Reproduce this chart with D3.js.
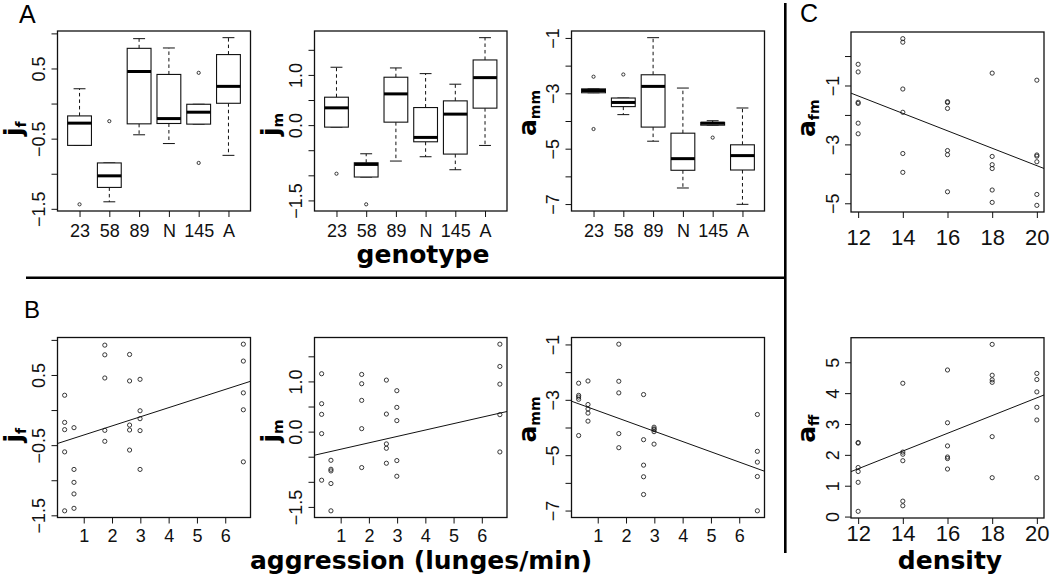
<!DOCTYPE html>
<html><head><meta charset="utf-8">
<script src="https://cdn.jsdelivr.net/npm/d3@7"></script>
<style>body{margin:0;background:#fff}svg{display:block}</style>
</head><body><svg id="c" width="1050" height="578"></svg>
<script>
// ---------------- data ----------------
const genotypes = ["23","58","89","N","145","A"];
const aggression = [0.326, 0.656, 1.745, 2.62, 2.99, 6.64];
const jf = [
  [0.211, -0.176, -0.279, -0.596, -1.436],
  [-0.251, -0.846, -1.03, -1.195, -1.40],
  [0.925, 0.787, 0.457, -0.289, -0.445],
  [0.792, 0.415, -0.214, -0.284, -0.57],
  [0.438, -0.01, -0.123, -0.293, -0.846],
  [0.939, 0.698, 0.245, 0.004, -0.738]
];
const jm = [
  [1.153, 0.556, 0.344, -0.04, -0.968],
  [-0.571, -0.75, -0.783, -1.034, -1.578],
  [1.139, 0.954, 0.622, 0.059, -0.716],
  [1.026, 0.35, -0.245, -0.332, -0.63],
  [0.815, 0.483, 0.219, -0.577, -0.889],
  [1.742, 1.298, 0.946, 0.338, -0.405]
];
const amm = [
  [-2.40, -2.84, -2.90, -2.98, -4.29],
  [-2.32, -3.17, -3.33, -3.48, -3.77],
  [-0.99, -2.33, -2.75, -4.22, -4.73],
  [-2.81, -4.44, -5.36, -5.78, -6.42],
  [-3.99, -4.05, -4.08, -4.15, -4.60],
  [-3.53, -4.86, -5.25, -5.77, -7.01]
];
const density = [12, 14, 16, 18, 20];
const afm = [
  [-0.28, -0.54, -1.57, -1.61, -2.28, -2.64],
  [0.59, 0.47, -1.12, -1.91, -3.31, -3.95],
  [-1.55, -1.58, -1.78, -3.21, -3.35, -4.61],
  [-0.58, -3.41, -3.69, -3.82, -4.55, -4.97],
  [-0.82, -3.36, -3.40, -3.59, -4.70, -5.07]
];
const aff = [
  [2.40, 2.38, 1.59, 1.46, 1.11, 0.17],
  [4.32, 2.09, 2.02, 1.81, 0.50, 0.35],
  [4.75, 3.04, 2.29, 1.93, 1.88, 1.54],
  [5.58, 4.58, 4.43, 4.35, 2.59, 1.26],
  [4.64, 4.44, 4.04, 3.54, 3.13, 1.26]
];
// fitted lines [intercept, slope]
const fitJf = [-0.486, 0.130];
const fitJm = [-0.479, 0.1276];
const fitAmm = [-3.023, -0.371];
const fitAfm = [2.197, -0.296];
const fitAff = [-1.900, 0.2874];
// tick values and labels (empty label = tick without text)
const jfTicks = [-1.5, -1, -0.5, 0, 0.5, 1];
const jfTickLabels = ["\u22121.5", "", "\u22120.5", "", "0.5", ""];
const jmTicks = [-1.5, -1, -0.5, 0, 0.5, 1, 1.5];
const jmTickLabels = ["\u22121.5", "", "", "0.0", "", "1.0", ""];
const ammTicks = [-7, -6, -5, -4, -3, -2, -1];
const ammTickLabels = ["\u22127", "", "\u22125", "", "\u22123", "", "\u22121"];
const afmTicks = [-5, -4, -3, -2, -1, 0];
const afmTickLabels = ["\u22125", "", "\u22123", "", "\u22121", ""];
const affTicks = [0, 1, 2, 3, 4, 5];
const affTickLabels = ["0", "1", "2", "3", "4", "5"];
const aggTicks = [1, 2, 3, 4, 5, 6];
const aggTickLabels = ["1", "2", "3", "4", "5", "6"];
const densTicks = [12, 14, 16, 18, 20];
const densTickLabels = ["12", "14", "16", "18", "20"];

// ---------------- helpers ----------------
const svg = d3.select("#c");
const SANS = "'Liberation Sans', Arial, sans-serif";
const BOLD = "'DejaVu Sans', sans-serif";

function rpad(vals) {
  const [a, b] = d3.extent(vals); const p = (b - a) * 0.04; return [a - p, b + p];
}
function fivenum(arr) {
  const x = arr.slice().sort((a, b) => a - b), n = x.length;
  const n4 = Math.floor((n + 3) / 2) / 2;
  const d = [1, n4, (n + 1) / 2, n + 1 - n4, n];
  return d.map(v => 0.5 * (x[Math.floor(v) - 1] + x[Math.ceil(v) - 1]));
}
function boxStats(arr) {
  const f = fivenum(arr), iqr = f[3] - f[1];
  const lo = f[1] - 1.5 * iqr, hi = f[3] + 1.5 * iqr;
  const inside = arr.filter(v => v >= lo && v <= hi);
  return { q1: f[1], med: f[2], q3: f[3], wlo: d3.min(inside), whi: d3.max(inside),
           out: arr.filter(v => v < lo || v > hi) };
}
let clipId = 0;
function panel(x0, x1, y0, y1, xDom, yDom) {
  const g = svg.append("g");
  const x = d3.scaleLinear().domain(xDom).range([x0, x1]);
  const y = d3.scaleLinear().domain(yDom).range([y1, y0]);
  const id = "clip" + (clipId++);
  svg.append("clipPath").attr("id", id).append("rect")
    .attr("x", x0).attr("y", y0).attr("width", x1 - x0).attr("height", y1 - y0);
  return { g, x, y, x0, x1, y0, y1, clip: "url(#" + id + ")" };
}
function frame(p) {
  p.g.append("rect").attr("x", p.x0).attr("y", p.y0).attr("width", p.x1 - p.x0)
    .attr("height", p.y1 - p.y0).attr("fill", "none").attr("stroke", "#111").attr("stroke-width", 1.3);
}
function yAxis(p, ticks, labels) {
  const ax = d3.axisLeft(p.y).tickValues(ticks).tickSize(6).tickFormat((d, i) => labels[i]);
  const a = p.g.append("g").attr("transform", `translate(${p.x0},0)`).call(ax);
  a.select(".domain").remove();
  a.selectAll("line").attr("stroke", "#111");
  a.selectAll("text").attr("transform", "rotate(-90)").attr("x", 0).attr("y", -12.5)
    .attr("dy", 0).attr("text-anchor", "middle").attr("fill", "#111")
    .style("font-family", SANS).style("font-size", "18px");
}
function xAxis(p, scaleFn, ticks, labels, size, off) {
  const ax = d3.axisBottom(scaleFn).tickValues(ticks).tickSize(6).tickFormat((d, i) => labels[i]);
  const a = p.g.append("g").attr("transform", `translate(0,${p.y1})`).call(ax);
  a.select(".domain").remove();
  a.selectAll("line").attr("stroke", "#111");
  a.selectAll("text").attr("y", off).attr("dy", 0).attr("fill", "#111")
    .style("font-family", SANS).style("font-size", size + "px");
}
function ylab(p, main, sub) {
  const yc = (p.y0 + p.y1) / 2;
  const t = p.g.append("text").attr("transform", `translate(${p.x0 - 36},${yc + 15}) rotate(-90)`)
    .attr("font-family", BOLD).attr("font-weight", "bold").attr("font-size", 25).attr("fill", "#000");
  t.append("tspan").text(main);
  t.append("tspan").attr("font-size", 14).attr("dy", 4).text(sub);
}
function boxes(p, data) {
  const bx = d3.scaleLinear().domain([0.26, 6.74]).range([p.x0, p.x1]);
  const hw = (bx(1.4) - bx(1)); // half box width (boxwex 0.8)
  data.forEach((vals, i) => {
    const s = boxStats(vals), cx = bx(i + 1), g = p.g;
    const dash = "3.5,3";
    g.append("line").attr("x1", cx).attr("x2", cx).attr("y1", p.y(s.q3)).attr("y2", p.y(s.whi))
      .attr("stroke", "#111").attr("stroke-dasharray", dash);
    g.append("line").attr("x1", cx).attr("x2", cx).attr("y1", p.y(s.q1)).attr("y2", p.y(s.wlo))
      .attr("stroke", "#111").attr("stroke-dasharray", dash);
    [s.whi, s.wlo].forEach(v => g.append("line").attr("x1", cx - hw / 2).attr("x2", cx + hw / 2)
      .attr("y1", p.y(v)).attr("y2", p.y(v)).attr("stroke", "#111"));
    g.append("rect").attr("x", cx - hw).attr("width", 2 * hw).attr("y", p.y(s.q3))
      .attr("height", p.y(s.q1) - p.y(s.q3)).attr("fill", "#fff").attr("stroke", "#111").attr("stroke-width", 1.1);
    g.append("line").attr("x1", cx - hw).attr("x2", cx + hw).attr("y1", p.y(s.med)).attr("y2", p.y(s.med))
      .attr("stroke", "#000").attr("stroke-width", 3);
    s.out.forEach(v => g.append("circle").attr("cx", cx).attr("cy", p.y(v)).attr("r", 1.6)
      .attr("fill", "none").attr("stroke", "#222").attr("stroke-width", 0.9));
  });
  xAxis(p, bx, [1, 2, 3, 4, 5, 6], genotypes, 18, 26);
}
function scatter(p, xs, groups, fit) {
  const pts = [];
  groups.forEach((vals, i) => vals.forEach(v => pts.push([xs[i], v])));
  p.g.selectAll(null).data(pts).enter().append("circle")
    .attr("cx", d => p.x(d[0])).attr("cy", d => p.y(d[1])).attr("r", 2.1)
    .attr("fill", "none").attr("stroke", "#222").attr("stroke-width", 0.9);
  const [xa, xb] = p.x.domain();
  p.g.append("line").attr("clip-path", p.clip)
    .attr("x1", p.x(xa)).attr("x2", p.x(xb))
    .attr("y1", p.y(fit[0] + fit[1] * xa)).attr("y2", p.y(fit[0] + fit[1] * xb))
    .attr("stroke", "#111").attr("stroke-width", 1);
}

// ---------------- layout ----------------
const cols = [[57.5, 250.5], [314.5, 507], [571.5, 764.5]];
const rowA = [31, 211], rowB = [337.5, 517.5];
const sets = [
  { data: jf, fit: fitJf, ticks: jfTicks, labels: jfTickLabels, main: "j", sub: "f" },
  { data: jm, fit: fitJm, ticks: jmTicks, labels: jmTickLabels, main: "j", sub: "m" },
  { data: amm, fit: fitAmm, ticks: ammTicks, labels: ammTickLabels, main: "a", sub: "mm" }
];
const aggDom = rpad(aggression);
sets.forEach((s, k) => {
  const yDom = rpad(s.data.flat());
  const pa = panel(cols[k][0], cols[k][1], rowA[0], rowA[1], [0.26, 6.74], yDom);
  boxes(pa, s.data);
  frame(pa); yAxis(pa, s.ticks, s.labels); ylab(pa, s.main, s.sub);
  const pb = panel(cols[k][0], cols[k][1], rowB[0], rowB[1], aggDom, yDom);
  scatter(pb, aggression, s.data, s.fit);
  frame(pb); yAxis(pb, s.ticks, s.labels); ylab(pb, s.main, s.sub);
  xAxis(pb, pb.x, aggTicks, aggTickLabels, 18, 24);
});
const densDom = rpad(density);
const pc1 = panel(851, 1044, 32, 212, densDom, rpad(afm.flat()));
scatter(pc1, density, afm, fitAfm); frame(pc1); yAxis(pc1, afmTicks, afmTickLabels); ylab(pc1, "a", "fm");
xAxis(pc1, pc1.x, densTicks, densTickLabels, 22, 33);
const pc2 = panel(851, 1044, 337.7, 518, densDom, rpad(aff.flat()));
scatter(pc2, density, aff, fitAff); frame(pc2); yAxis(pc2, affTicks, affTickLabels); ylab(pc2, "a", "ff");
xAxis(pc2, pc2.x, densTicks, densTickLabels, 22, 23);

// titles, letters, separators
const T = (x, y, txt, fam, size, weight, anchor) => svg.append("text").attr("x", x).attr("y", y)
  .attr("font-family", fam).attr("font-size", size).attr("font-weight", weight || "normal")
  .attr("text-anchor", anchor || "start").attr("fill", "#000").text(txt);
T(423, 263, "genotype", BOLD, 25, "bold", "middle");
T(421, 569, "aggression (lunges/min)", BOLD, 25, "bold", "middle");
T(950, 569, "density", BOLD, 25, "bold", "middle");
T(19, 22.7, "A", SANS, 25);
T(24, 318.3, "B", SANS, 24);
T(800, 21.7, "C", SANS, 25);
svg.append("line").attr("x1", 26).attr("x2", 786).attr("y1", 277.7).attr("y2", 277.7)
  .attr("stroke", "#000").attr("stroke-width", 2.6);
svg.append("line").attr("x1", 785.3).attr("x2", 785.3).attr("y1", 3).attr("y2", 553)
  .attr("stroke", "#000").attr("stroke-width", 2.6);
</script></body></html>
